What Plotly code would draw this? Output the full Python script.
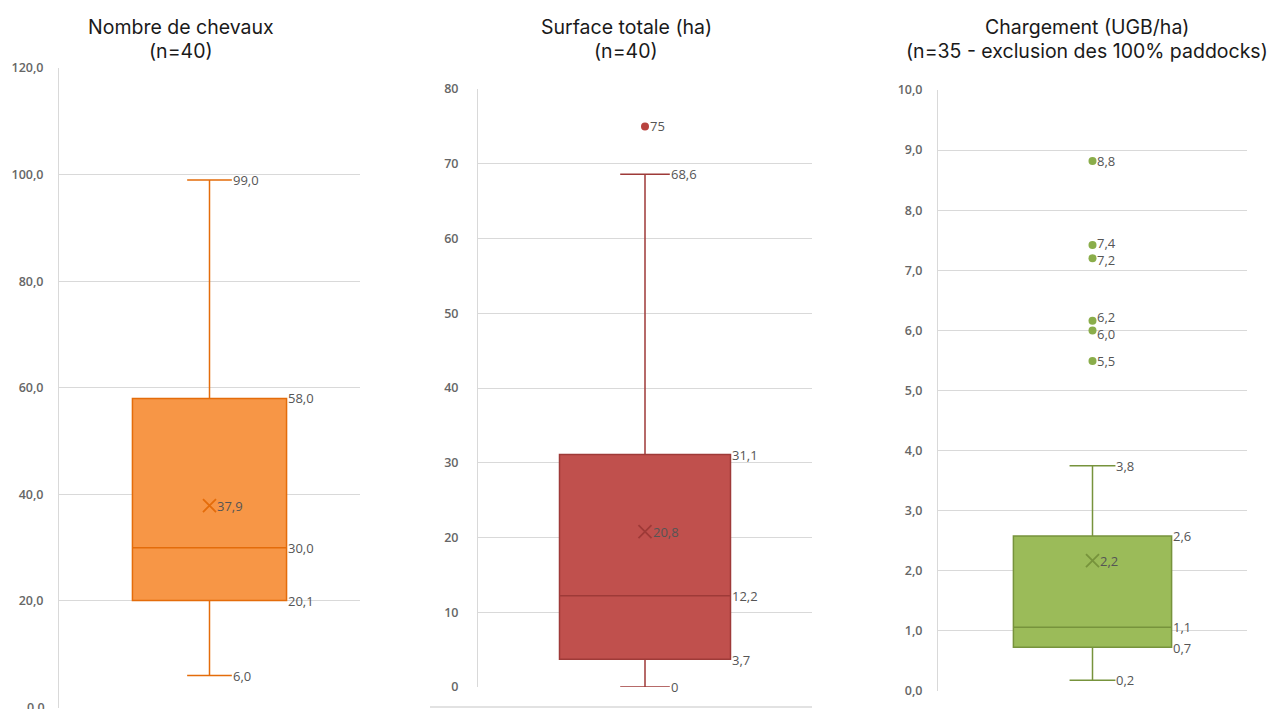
import plotly.graph_objects as go

# ---- data ----------------------------------------------------------------
title_line1 = ["Nombre de chevaux", "Surface totale (ha)", "Chargement (UGB/ha)"]
title_line2 = ["(n=40)", "(n=40)", "(n=35 - exclusion des 100% paddocks)"]
lower_fence = [6.0, 0.0, 0.18]
q1_vals = [20.1, 3.7, 0.73]
median_vals = [30.0, 12.2, 1.06]
q3_vals = [58.0, 31.1, 2.58]
upper_fence = [99.0, 68.6, 3.75]
mean_vals = [37.9, 20.8, 2.17]
outliers = [[], [75.0], [8.82, 7.42, 7.2, 6.16, 6.0, 5.49]]

y_max = [120, 80, 10]
y_dtick = [20, 10, 1]
tick_fmt = [".1f", "d", ".1f"]

# ---- styling -------------------------------------------------------------
fill_colors = ["#F79646", "#C0504D", "#9BBB59"]
line_colors = ["#E46C0A", "#9E3A38", "#77933C"]
point_colors = ["#E46C0A", "#B8433F", "#8AAD4A"]
label_color = "#555555"
tick_color = "#666666"
grid_color = "#D9D9D9"
W, H = 1278, 709

# plot areas in pixels: (left, right, y of zero, y of top)
areas = [(59, 360, 707.5, 68), (478, 812, 687, 89), (938, 1247, 691, 90)]
title_cx = [181, 626, 1087]
tick_standoff = [12, 16, 12]
box_w = 0.512
whisker_w = 0.29
# small vertical nudges (px) for outlier labels that sit very close together
outlier_shift = [[], [0], [0, 2, -2, 4, -4, 0]]


def fmt(v, kind):
    if kind == "d":
        s = "%g" % round(v, 1)
    else:
        s = "%.1f" % v
    return s.replace(".", ",")


fig = go.Figure()
annotations = []

for i in range(3):
    n = "" if i == 0 else str(i + 1)
    xa, ya = "x" + n, "y" + n
    left, right, y0, ytop = areas[i]

    fig.add_trace(go.Box(
        x=[0.5], q1=[q1_vals[i]], median=[median_vals[i]], q3=[q3_vals[i]],
        lowerfence=[lower_fence[i]], upperfence=[upper_fence[i]],
        width=box_w, whiskerwidth=whisker_w,
        fillcolor=fill_colors[i], line=dict(color=line_colors[i], width=1.5),
        boxpoints=False, hoverinfo="skip", showlegend=False,
        xaxis=xa, yaxis=ya,
    ))
    # mean marker
    fig.add_trace(go.Scatter(
        x=[0.5], y=[mean_vals[i]], mode="markers",
        marker=dict(symbol="x-thin", size=13,
                    line=dict(color=line_colors[i], width=1.8)),
        showlegend=False, hoverinfo="skip", xaxis=xa, yaxis=ya,
    ))
    # outliers
    if outliers[i]:
        fig.add_trace(go.Scatter(
            x=[0.5] * len(outliers[i]), y=outliers[i], mode="markers",
            marker=dict(color=point_colors[i], size=8),
            showlegend=False, hoverinfo="skip", xaxis=xa, yaxis=ya,
        ))

    x_box_r = 0.5 + box_w / 2
    x_cap_r = 0.5 + box_w * whisker_w / 2
    x_pt = 0.5 + 0.012
    kind = "d" if i == 1 else "f"
    labels = [
        (x_cap_r, upper_fence[i], 0), (x_box_r, q3_vals[i], 0),
        (x_pt + 0.01, mean_vals[i], 0), (x_box_r, median_vals[i], 0),
        (x_box_r, q1_vals[i], -1), (x_cap_r, lower_fence[i], 0),
    ] + [(x_pt, v, s) for v, s in zip(outliers[i], outlier_shift[i])]
    for lx, lv, sh in labels:
        annotations.append(dict(
            x=lx, y=lv, xref=xa, yref=ya, text=fmt(lv, kind), showarrow=False,
            xanchor="left", yanchor="middle", xshift=-1, yshift=sh,
            font=dict(family="Open Sans", size=13, color=label_color),
        ))

    for txt, cy in ((title_line1[i], 27), (title_line2[i], 51)):
        annotations.append(dict(
            x=title_cx[i] / W, y=1 - cy / H, xref="paper", yref="paper",
            text=txt, showarrow=False, xanchor="center", yanchor="middle",
            font=dict(family="Inter", size=19.5, color="#1a1a1a"),
        ))

    fig.update_layout({
        "xaxis" + n: dict(domain=[left / W, right / W], range=[0, 1],
                          visible=False, fixedrange=True, automargin=False),
        "yaxis" + n: dict(domain=[1 - y0 / H, 1 - ytop / H], range=[0, y_max[i]],
                          dtick=y_dtick[i], tickformat=tick_fmt[i],
                          showgrid=True, gridcolor=grid_color, gridwidth=1,
                          showline=True, linecolor=grid_color, linewidth=1,
                          zeroline=False, ticks="", ticklabelstandoff=tick_standoff[i],
                          automargin=False,
                          tickfont=dict(family="Open Sans", size=12.5,
                                        color=tick_color, weight=600),
                          anchor=xa),
    })

# the lowest tick label of the first panel sits at the page edge
annotations.append(dict(
    x=47 / W, y=0, xref="paper", yref="y", text="0,0", showarrow=False,
    xanchor="right", yanchor="middle",
    font=dict(family="Open Sans", size=12.5, color=tick_color, weight=600),
))

# frame line under the middle panel
fig.add_shape(type="line", xref="paper", yref="paper",
              x0=430 / W, x1=812 / W, y0=1 - 707 / H, y1=1 - 707 / H,
              line=dict(color=grid_color, width=1.5))

fig.update_layout(
    width=W, height=H,
    margin=dict(l=0, r=0, t=0, b=0, autoexpand=False),
    paper_bgcolor="white", plot_bgcolor="white",
    separators=", ",
    annotations=annotations,
    showlegend=False,
)

fig.write_html("out.html")
